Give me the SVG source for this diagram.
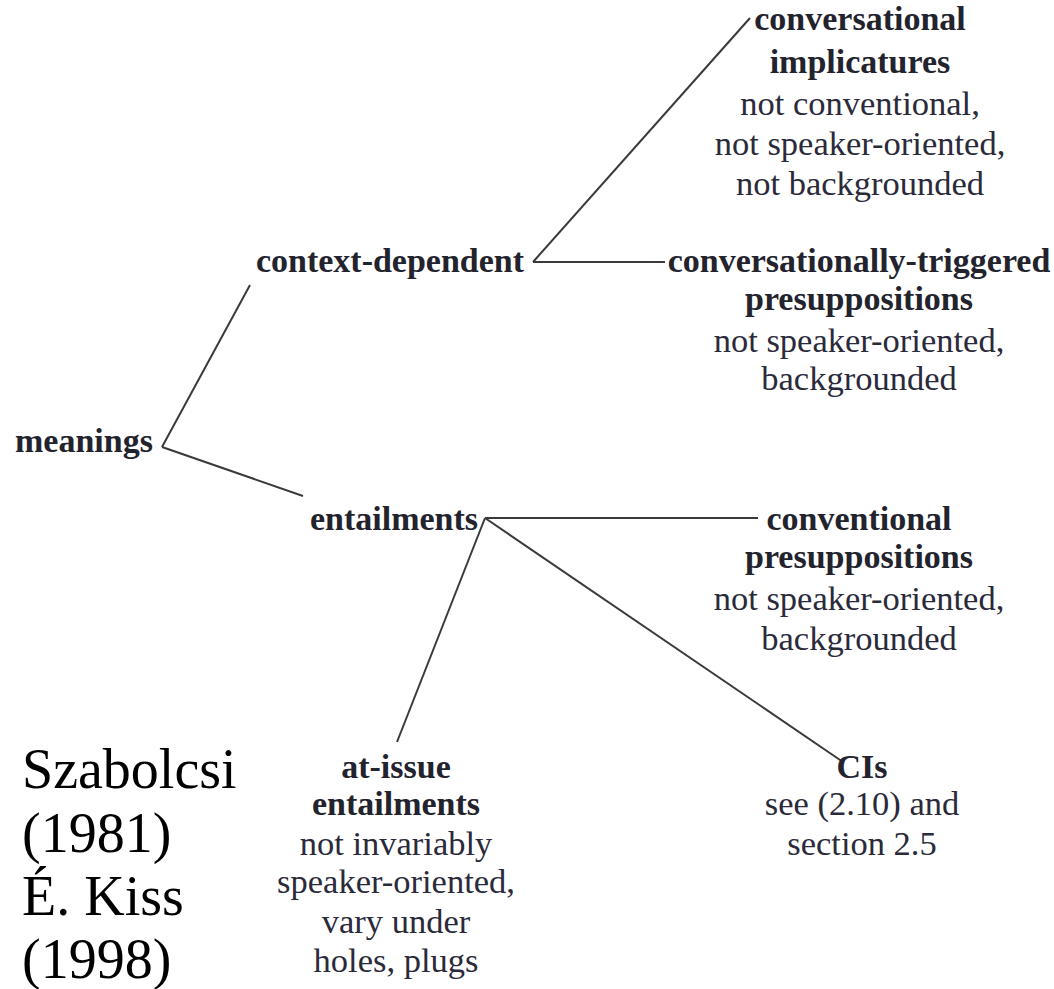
<svg xmlns="http://www.w3.org/2000/svg" width="1054" height="989" viewBox="0 0 1054 989">
<style>
text{font-family:"Liberation Serif","Times New Roman",serif;fill:#23232e}
.b{font-weight:bold;font-size:34px}
.r{font-size:34.5px;fill:#2a2a3a}
.c{text-anchor:middle}
.big{font-size:56px;fill:#000}
line{stroke:#3a3a3a;stroke-width:2;fill:none}
</style>
<rect width="1054" height="989" fill="#fff"/>
<g id="connectors">
<line x1="162" y1="447" x2="250" y2="285"/>
<line x1="162" y1="447" x2="303" y2="496"/>
<line x1="533" y1="262" x2="750" y2="18"/>
<line x1="533" y1="262" x2="665" y2="262"/>
<line x1="485" y1="518" x2="758" y2="518"/>
<line x1="485" y1="518" x2="397" y2="742"/>
<line x1="485" y1="518" x2="843" y2="762"/>
</g>
<g id="meanings"><text class="b" x="15" y="452">meanings</text></g>
<g id="context-dependent"><text class="b c" x="390" y="272">context-dependent</text></g>
<g id="entailments"><text class="b c" x="394" y="530">entailments</text></g>
<g id="conv-implicatures">
<text class="b c" x="860" y="30">conversational</text>
<text class="b c" x="860" y="73">implicatures</text>
<text class="r c" x="860" y="115">not conventional,</text>
<text class="r c" x="860" y="155">not speaker-oriented,</text>
<text class="r c" x="860" y="195">not backgrounded</text>
</g>
<g id="conv-triggered">
<text class="b c" x="859" y="272">conversationally-triggered</text>
<text class="b c" x="859" y="310">presuppositions</text>
<text class="r c" x="859" y="352">not speaker-oriented,</text>
<text class="r c" x="859" y="390">backgrounded</text>
</g>
<g id="conventional-presup">
<text class="b c" x="859" y="530">conventional</text>
<text class="b c" x="859" y="568">presuppositions</text>
<text class="r c" x="859" y="610">not speaker-oriented,</text>
<text class="r c" x="859" y="650">backgrounded</text>
</g>
<g id="at-issue">
<text class="b c" x="396" y="778">at-issue</text>
<text class="b c" x="396" y="815">entailments</text>
<text class="r c" x="396" y="855">not invariably</text>
<text class="r c" x="396" y="893">speaker-oriented,</text>
<text class="r c" x="396" y="933">vary under</text>
<text class="r c" x="396" y="972">holes, plugs</text>
</g>
<g id="cis">
<text class="b c" x="862" y="778">CIs</text>
<text class="r c" x="862" y="815">see (2.10) and</text>
<text class="r c" x="862" y="855">section 2.5</text>
</g>
<g id="citation">
<text class="big" x="22" y="788">Szabolcsi</text>
<text class="big" x="22" y="852">(1981)</text>
<text class="big" x="22" y="915">É. Kiss</text>
<text class="big" x="22" y="978">(1998)</text>
</g>
</svg>
